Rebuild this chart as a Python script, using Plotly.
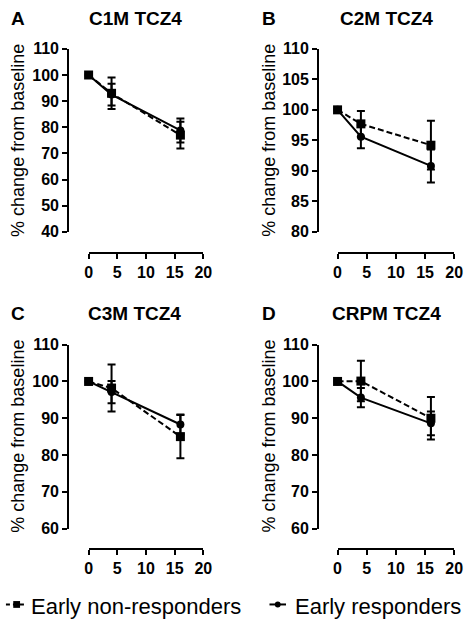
import plotly.graph_objects as go

W, H = 472, 630

weeks = [0, 4, 16]
x_ticks = [0, 5, 10, 15, 20]

panel_letters = ["A", "B", "C", "D"]
panel_titles = ["C1M TCZ4", "C2M TCZ4", "C3M TCZ4", "CRPM TCZ4"]
series_names = ["Early non-responders", "Early responders"]

c1m_nonresp = [100, 93.0, 77.0]
c1m_nonresp_err = [None, 6.0, 5.1]
c1m_resp = [100, 92.5, 78.8]
c1m_resp_err = [None, 4.2, 4.6]

c2m_nonresp = [100, 97.7, 94.2]
c2m_nonresp_err = [None, 2.1, 4.0]
c2m_resp = [100, 95.6, 90.8]
c2m_resp_err = [None, 1.9, 2.7]

c3m_nonresp = [100, 98.2, 85.0]
c3m_nonresp_err = [None, 6.4, 5.9]
c3m_resp = [100, 97.1, 88.3]
c3m_resp_err = [None, 3.0, 2.7]

crpm_nonresp = [100, 100.1, 90.0]
crpm_nonresp_err = [None, 5.5, 5.8]
crpm_resp = [100, 95.6, 88.6]
crpm_resp_err = [None, 2.6, 3.2]

y_ticks_a = [40, 50, 60, 70, 80, 90, 100, 110]
y_ticks_b = [80, 85, 90, 95, 100, 105, 110]
y_ticks_c = [60, 70, 80, 90, 100, 110]
y_ticks_d = [60, 70, 80, 90, 100, 110]
y_ticks = [y_ticks_a, y_ticks_b, y_ticks_c, y_ticks_d]

data = [
    (c1m_nonresp, c1m_nonresp_err, c1m_resp, c1m_resp_err),
    (c2m_nonresp, c2m_nonresp_err, c2m_resp, c2m_resp_err),
    (c3m_nonresp, c3m_nonresp_err, c3m_resp, c3m_resp_err),
    (crpm_nonresp, crpm_nonresp_err, crpm_resp, crpm_resp_err),
]

# layout geometry in pixels: x-domain left/right, y-axis line x, y-domain top/bottom, x-axis line y
geom = [
    (87, 205, 66, 42, 230, 252),
    (343, 463, 323, 42, 230, 252),
    (87, 205, 66, 346, 535, 556),
    (343, 463, 323, 346, 535, 556),
]
title_pos = [(135, 11), (393, 11), (134, 314), (393, 314)]
letter_pos = [(14, 11), (272, 11), (14, 314), (272, 314)]
ytitle_pos = [(15, 136), (273, 136), (15, 440), (273, 440)]

FONT = "Liberation Sans, Arial, sans-serif"
BLACK = "black"

def px(x):
    return x / W

def py(y):
    return 1 - y / H

def bold(vals):
    return [f"<b>{v}</b>" for v in vals]

fig = go.Figure()
layout = dict(
    width=W, height=H,
    margin=dict(l=0, r=0, t=0, b=0),
    paper_bgcolor="white", plot_bgcolor="white",
    font=dict(family=FONT, color=BLACK),
    annotations=[], shapes=[], showlegend=False,
)

for i in range(4):
    nr, nr_e, r, r_e = data[i]
    xa = "x" if i == 0 else f"x{i+1}"
    ya = "y" if i == 0 else f"y{i+1}"
    fig.add_trace(go.Scatter(
        x=weeks, y=nr, xaxis=xa, yaxis=ya, mode="lines+markers",
        name=series_names[0], cliponaxis=False,
        line=dict(color=BLACK, width=2, dash="6px,3px"),
        marker=dict(symbol="square", size=9, color=BLACK),
        error_y=dict(type="data", array=nr_e, visible=True, color=BLACK, thickness=2, width=4),
    ))
    fig.add_trace(go.Scatter(
        x=weeks, y=r, xaxis=xa, yaxis=ya, mode="lines+markers",
        name=series_names[1], cliponaxis=False,
        line=dict(color=BLACK, width=2),
        marker=dict(symbol="circle", size=8, color=BLACK),
        error_y=dict(type="data", array=r_e, visible=True, color=BLACK, thickness=2, width=4),
    ))
    x0, x1, yax, yt, yb, xay = geom[i]
    xkey = "xaxis" if i == 0 else f"xaxis{i+1}"
    ykey = "yaxis" if i == 0 else f"yaxis{i+1}"
    tickfont = dict(size=16, family=FONT, color=BLACK)
    layout[xkey] = dict(
        domain=[px(x0), px(x1)], range=[0, 20], anchor="free", position=py(xay),
        tickvals=x_ticks, ticktext=bold(x_ticks),
        ticks="outside", ticklen=5, tickwidth=2, tickcolor=BLACK,
        showline=True, linewidth=2, linecolor=BLACK, showgrid=False, zeroline=False,
        tickfont=tickfont, fixedrange=True,
    )
    layout[ykey] = dict(
        domain=[py(yb), py(yt)], range=[y_ticks[i][0], y_ticks[i][-1]], anchor="free", position=px(yax),
        tickvals=y_ticks[i], ticktext=bold(y_ticks[i]),
        ticks="outside", ticklen=5, tickwidth=2, tickcolor=BLACK,
        showline=True, linewidth=2, linecolor=BLACK, showgrid=False, zeroline=False,
        tickfont=tickfont, fixedrange=True,
    )
    tx, ty = title_pos[i]
    layout["annotations"].append(dict(
        text=f"<b>{panel_titles[i]}</b>", x=px(tx), y=py(ty), xref="paper", yref="paper",
        xanchor="center", yanchor="middle", showarrow=False,
        font=dict(size=19, family=FONT, color=BLACK)))
    lx, ly = letter_pos[i]
    layout["annotations"].append(dict(
        text=f"<b>{panel_letters[i]}</b>", x=px(lx), y=py(ly), xref="paper", yref="paper",
        xanchor="center", yanchor="middle", showarrow=False,
        font=dict(size=19, family=FONT, color=BLACK)))
    ax_, ay_ = ytitle_pos[i]
    layout["annotations"].append(dict(
        text="% change from baseline", x=px(ax_), y=py(ay_), xref="paper", yref="paper",
        xanchor="center", yanchor="middle", showarrow=False, textangle=-90,
        font=dict(size=18, family=FONT, color=BLACK)))

# manual legend (symbols as shapes, labels as text)
LEG_Y = 613
layout["shapes"] += [
    dict(type="line", xref="paper", yref="paper", x0=px(2), x1=px(23), y0=py(LEG_Y), y1=py(LEG_Y),
         line=dict(color=BLACK, width=2, dash="4px,3px")),
    dict(type="rect", xref="paper", yref="paper", x0=px(9.5), x1=px(16.5), y0=py(LEG_Y + 3.5), y1=py(LEG_Y - 3.5),
         fillcolor=BLACK, line=dict(width=0)),
    dict(type="line", xref="paper", yref="paper", x0=px(273), x1=px(290), y0=py(LEG_Y), y1=py(LEG_Y),
         line=dict(color=BLACK, width=2)),
    dict(type="circle", xref="paper", yref="paper", x0=px(278.5), x1=px(284.5), y0=py(LEG_Y + 3), y1=py(LEG_Y - 3),
         fillcolor=BLACK, line=dict(width=0)),
]
layout["annotations"] += [
    dict(text=series_names[0], x=px(26), y=py(LEG_Y + 2), xref="paper", yref="paper",
         xanchor="left", yanchor="middle", showarrow=False, font=dict(size=22, family=FONT, color=BLACK)),
    dict(text=series_names[1], x=px(297), y=py(LEG_Y + 2), xref="paper", yref="paper",
         xanchor="left", yanchor="middle", showarrow=False, font=dict(size=22, family=FONT, color=BLACK)),
]

fig.update_layout(**layout)
fig.write_html("out.html", config={"displayModeBar": False},
               post_script="document.body.style.margin='0px';")
